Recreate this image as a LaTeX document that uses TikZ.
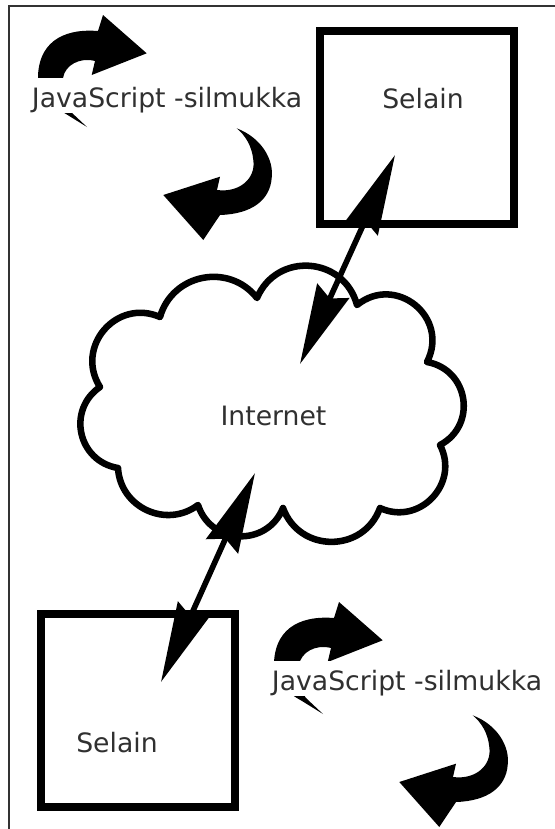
\documentclass[tikz,border=0pt]{standalone}
\usepackage{fontspec}
\setmainfont{DejaVu Sans}
\usetikzlibrary{arrows.meta,calc}
\definecolor{ink}{HTML}{303030}

% curved "loop" arrow pair used next to each JavaScript label
\tikzset{
  loopicon/.pic={
    % upper arrow, bending to the right; its tail runs on behind the label
    \fill (146.7,53.3) -- (91.7,75) -- (95,61)
      .. controls (80,57) and (65,65) .. (63,78)
      .. controls (63,98) and (66,107) .. (71,112) -- (87,127)
      -- (66,114)
      .. controls (50,105) and (38,95) .. (38,78)
      .. controls (38,45) and (60,28) .. (98,31)
      -- (103,15) -- cycle;
    % lower arrow, bending back to the left
    \fill (236.7,128.3)
      .. controls (262,138) and (274,160) .. (271.7,178)
      .. controls (270,200) and (252,214) .. (220,215)
      -- (203.3,240) -- (163.3,195) -- (220,176.7) -- (217,190)
      .. controls (240,193) and (256,178) .. (253.3,160)
      .. controls (252,146) and (245,135) .. (236.7,128.3) -- cycle;
  }
}

\begin{document}
\begin{tikzpicture}[x=0.75pt,y=-0.75pt,
  txt/.style={text=ink, font=\fontsize{20pt}{24pt}\selectfont, inner sep=0pt},
  jslabel/.style={txt, fill=white, text height=21.75pt, text depth=4.5pt, anchor=base west},
  browser/.style={draw=black, line width=6pt, minimum width=145.5pt, minimum height=144.75pt, inner sep=0pt},
  cloudline/.style={draw=black, line width=4.9pt, line join=round},
  link/.style={line width=4.2pt,
    {Stealth[length=60pt,width=26pt,inset=6pt]}-{Stealth[length=60pt,width=26pt,inset=6pt]}},
  frameline/.style={draw=black!80, line width=1.5pt}]

\useasboundingbox (0,0) rectangle (555,829);

% page frame, top and left edges
\draw[frameline] (9,829) -- (9,5.5) -- (555,5.5);

% the Internet cloud
\coordinate (c1) at (160,317);
\coordinate (c2) at (257,298);
\coordinate (c3) at (357,305);
\coordinate (c4) at (427,362);
\coordinate (c5) at (440,445);
\coordinate (c6) at (380,508);
\coordinate (c7) at (283,508);
\coordinate (c8) at (198,505);
\coordinate (c9) at (118,468);
\coordinate (c10) at (100,387);
\draw[cloudline]
  (c1) to[bend left=63, looseness=1.17] (c2)
       to[bend left=71, looseness=1.29] (c3)
       to[bend left=78, looseness=1.42] (c4)
       to[bend left=71, looseness=1.29] (c5)
       to[bend left=71, looseness=1.28] (c6)
       to[bend left=70, looseness=1.27] (c7)
       to[bend left=70, looseness=1.27] (c8)
       to[bend left=62, looseness=1.15] (c9)
       to[bend left=68, looseness=1.25] (c10)
       to[bend left=73, looseness=1.32] (c1) -- cycle;
\node[txt, anchor=base] (net) at (273.5,425) {Internet};

% the two browsers
\node[browser] (selA) at (417,127.5) {};
\node[txt, anchor=base] (selAtxt) at (423,108) {Selain};
\node[browser] (selB) at (138,710) {};
\node[txt, anchor=base] (selBtxt) at (117,752) {Selain};

% connections through the Internet
\coordinate (selAin) at (395,155);
\coordinate (netA) at (300,364);
\coordinate (netB) at (255,473);
\coordinate (selBin) at (161,682);
\draw[link] (netA) -- (selAin);
\draw[link] (netB) -- (selBin);

% JavaScript event loops
\pic (loopA) at (0,0) {loopicon};
\pic (loopB) at (236,587) {loopicon};
\node[jslabel] (jsA) at (31.7,107.3) {JavaScript -silmukka};
\node[jslabel] (jsB) at (271.7,690) {JavaScript -silmukka};
\end{tikzpicture}
\end{document}
